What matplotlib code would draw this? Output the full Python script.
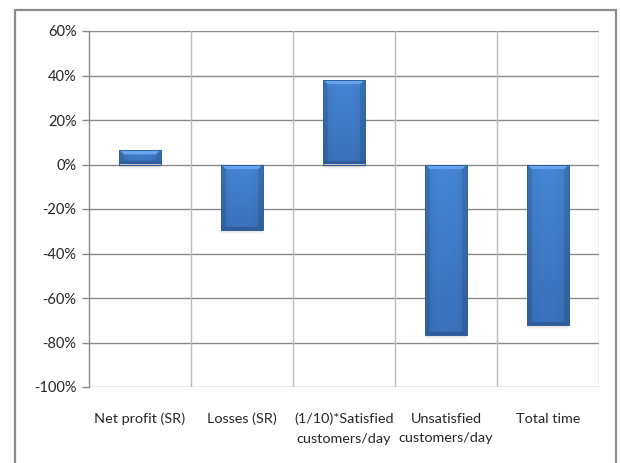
import numpy as np
import matplotlib
matplotlib.use("Agg")
import matplotlib.pyplot as plt
from matplotlib.patches import Rectangle
from matplotlib.colors import to_rgb

# Chart data (percent change per indicator)
categories = ["Net profit (SR)", "Losses (SR)", "(1/10)*Satisfied\ncustomers/day",
              "Unsatisfied\ncustomers/day", "Total time"]
values = [6.4, -29.6, 37.8, -76.8, -72.1]
yticks = [60, 40, 20, 0, -20, -40, -60, -80, -100]

plt.rcParams['font.family'] = ['Lato', 'DejaVu Sans']

W, H = 620, 463
fig = plt.figure(figsize=(W / 100, H / 100), dpi=100)
fig.patch.set_facecolor('white')

# outer chart frame
fig.add_artist(Rectangle((15 / W, -0.02), 601 / W, (H - 10) / H + 0.02,
                         transform=fig.transFigure, fill=False,
                         edgecolor='#8c8c8c', lw=1.6))

left, right, top, bottom = 89, 599, 31, 387
ax = fig.add_axes([left / W, 1 - bottom / H, (right - left) / W, (bottom - top) / H])
ax.set_xlim(-0.5, len(categories) - 0.5)
ax.set_ylim(-100, 60)

# grid
for y in yticks:
    ax.axhline(y, color='#8a8a8a', lw=1.0, zorder=1)
for xb in np.arange(0.5, len(categories), 1.0):
    ax.axvline(xb, color='#bcbcbc', lw=1.0, zorder=1)

for s in ['top', 'right', 'bottom']:
    ax.spines[s].set_visible(False)
ax.spines['left'].set_color('#8a8a8a')
ax.spines['left'].set_linewidth(1.0)

ax.set_yticks(yticks)
ax.set_yticklabels([f"{v}%" for v in yticks])
ax.tick_params(axis='y', direction='out', length=5, width=1, color='#8a8a8a',
               labelsize=10.5, labelcolor='#262626', pad=4)
ax.set_xticks(range(len(categories)))
ax.set_xticklabels(categories, linespacing=1.75)
ax.tick_params(axis='x', length=0, labelsize=10.4, labelcolor='#262626', pad=18.5)

bar_w = 0.41
px_per_x = (right - left) / len(categories)
px_per_y = (bottom - top) / 160.0

c_top = np.array(to_rgb('#4687d6'))
c_bot = np.array(to_rgb('#3a71ba'))
c_light = np.array(to_rgb('#69a4ec'))
c_dark = np.array(to_rgb('#2e5c9a'))
c_edge = '#2f5e9c'

bars = ax.bar(range(len(categories)), values, width=bar_w, color='none',
              edgecolor='none', zorder=3)

for i, (b, v) in enumerate(zip(bars, values)):
    x0 = b.get_x()
    x1 = x0 + b.get_width()
    y_top, y_bot = max(v, 0), min(v, 0)
    wp = max(int(round(bar_w * px_per_x)), 2) * 2
    hp = max(int(round(abs(v) * px_per_y)), 2) * 2

    # soft drop shadow
    for k, a in enumerate([0.12, 0.08, 0.05, 0.03]):
        off = (k + 1.0) / px_per_y
        ax.add_patch(Rectangle((x0 + 0.3 / px_per_x, y_bot - off), x1 - x0, y_top - y_bot,
                               facecolor='#555555', edgecolor='none', alpha=a, zorder=2))

    # bevelled gradient fill (supersampled 2x)
    rr, cc = np.mgrid[0:hp, 0:wp]
    tv = rr / max(hp - 1, 1)
    img = c_top[None, None, :] * (1 - tv[..., None]) + c_bot[None, None, :] * tv[..., None]
    th = np.abs(cc / max(wp - 1, 1) - 0.5) * 2
    img = img * (1.0 - 0.08 * th ** 2)[..., None]
    bev = 10
    side = ((cc < bev) | (cc >= wp - bev))
    img[side] = img[side] * 0.9
    topband = (rr < bev) & (cc >= rr) & (cc < wp - rr)
    img[topband] = c_light
    botband = (rr >= hp - 6) & (cc >= (hp - 1 - rr)) & (cc < wp - (hp - 1 - rr))
    img[botband] = c_dark
    im = ax.imshow(np.clip(img, 0, 1), extent=(x0, x1, y_bot, y_top), origin='upper',
                   aspect='auto', interpolation='antialiased', zorder=3)
    im.set_clip_path(b)
    ax.add_patch(Rectangle((x0, y_bot), x1 - x0, y_top - y_bot, fill=False,
                           edgecolor=c_edge, lw=0.7, zorder=4))

ax.set_xlim(-0.5, len(categories) - 0.5)
ax.set_ylim(-100, 60)

fig.savefig('out.png', dpi=100, facecolor='white')
